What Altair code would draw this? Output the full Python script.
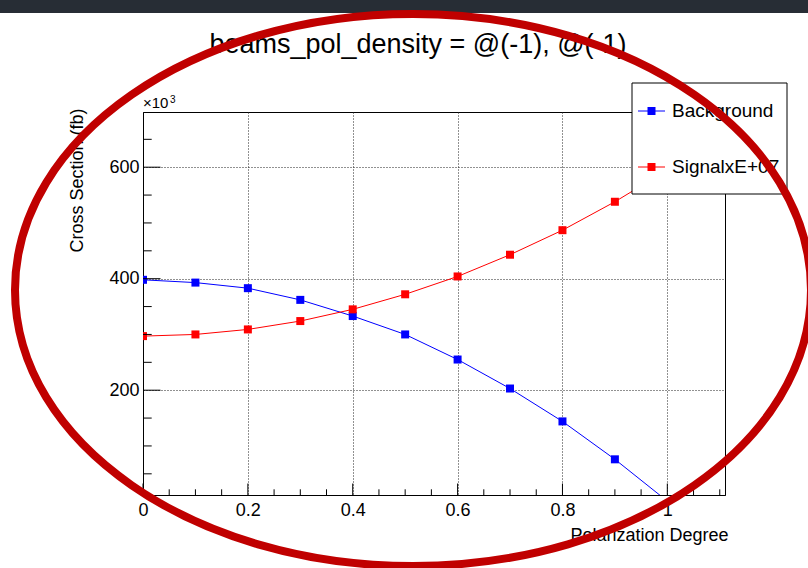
import altair as alt
import pandas as pd

# ---------------- data ----------------
polarization = [0.0, 0.1, 0.2, 0.3, 0.4, 0.5, 0.6, 0.7, 0.8, 0.9, 1.0]
background = [398, 393, 383, 362, 333, 300, 255, 203, 144, 76, 1]
signal = [297, 300, 309, 324, 345, 372, 404, 443, 487, 538, 595]
series_names = ["Background", "SignalxE+07"]
series_colors = ["#0000ff", "#ff0000"]

x_major = [0, 0.2, 0.4, 0.6, 0.8, 1.0]
x_minor = [0.05, 0.1, 0.15, 0.25, 0.3, 0.35, 0.45, 0.5, 0.55, 0.65, 0.7, 0.75,
           0.85, 0.9, 0.95, 1.05, 1.1]
y_major = [200, 400, 600]
y_minor = [50, 100, 150, 250, 300, 350, 450, 500, 550, 650]
x_domain = [0, 1.11]
y_domain = [12, 699]

title_text = "beams_pol_density = @(-1), @(-1)"
x_title = "Polarization Degree"
y_title = "Cross Section (fb)"

FONT = "Liberation Sans"
W, H = 582, 383

df = pd.DataFrame({
    "x": polarization * 2,
    "value": background + signal,
    "series": [series_names[0]] * len(polarization) + [series_names[1]] * len(polarization),
})
one = pd.DataFrame({"a": [0]})

xs = alt.Scale(domain=x_domain, nice=False, zero=False)
ys = alt.Scale(domain=y_domain, nice=False, zero=False)
cs = alt.Scale(domain=series_names, range=series_colors)

xaxis = alt.Axis(values=x_major, format="~g", ticks=False, tickSize=0, labelPadding=6,
                 labelFontSize=18, labelFlush=False, labelOverlap=False,
                 grid=True, gridDash=[1, 2], gridColor="#222222", gridWidth=1,
                 domainColor="black", title=x_title, titleX=585, titleY=40,
                 titleAlign="right", titleBaseline="middle", titleFontSize=18,
                 titleFontWeight="normal")
yaxis = alt.Axis(values=y_major, format="d", ticks=False, tickSize=0, labelPadding=4,
                 labelFontSize=18, labelFlush=False, labelOverlap=False,
                 grid=True, gridDash=[1, 2], gridColor="#222222", gridWidth=1,
                 domainColor="black", title=y_title, titleX=-66, titleY=-4,
                 titleAngle=270, titleAlign="right", titleBaseline="middle",
                 titleFontSize=18, titleFontWeight="normal")


def X(field):
    return alt.X(field, scale=xs, axis=xaxis)


def Y(field):
    return alt.Y(field, scale=ys, axis=yaxis)


band = alt.Chart(one).mark_rect(color="#272d35").encode(
    x=alt.value(-143), x2=alt.value(665), y=alt.value(-112), y2=alt.value(-99))

lines = alt.Chart(df).mark_line(clip=True, strokeWidth=1).encode(
    x=X("x:Q"), y=Y("value:Q"),
    color=alt.Color("series:N", scale=cs, legend=None))

points = alt.Chart(df).mark_point(shape="square", filled=True, size=64, opacity=1,
                                  clip=True).encode(
    x=X("x:Q"), y=Y("value:Q"),
    color=alt.Color("series:N", scale=cs, legend=None))

xt_major = alt.Chart(pd.DataFrame({"x": x_major})).mark_rule(color="black").encode(
    x=X("x:Q"), y=alt.value(H), y2=alt.value(H - 11.5))
xt_minor = alt.Chart(pd.DataFrame({"x": x_minor})).mark_rule(color="black").encode(
    x=X("x:Q"), y=alt.value(H), y2=alt.value(H - 5.7))
yt_major = alt.Chart(pd.DataFrame({"value": y_major})).mark_rule(color="black").encode(
    y=Y("value:Q"), x=alt.value(0), x2=alt.value(17.5))
yt_minor = alt.Chart(pd.DataFrame({"value": y_minor})).mark_rule(color="black").encode(
    y=Y("value:Q"), x=alt.value(0), x2=alt.value(8.7))

# legend box
leg_box = alt.Chart(one).mark_rect(fill="white", stroke="black", strokeWidth=1).encode(
    x=alt.value(489), x2=alt.value(644), y=alt.value(-29), y2=alt.value(82))
leg_layers = []
for i, name in enumerate(series_names):
    yy = -1 + 56 * i
    d = pd.DataFrame({"series": [name]})
    leg_layers.append(alt.Chart(d).mark_rule(strokeWidth=1).encode(
        x=alt.value(495), x2=alt.value(522), y=alt.value(yy),
        color=alt.Color("series:N", scale=cs, legend=None)))
    leg_layers.append(alt.Chart(d).mark_point(shape="square", filled=True, size=64,
                                              opacity=1).encode(
        x=alt.value(508.5), y=alt.value(yy),
        color=alt.Color("series:N", scale=cs, legend=None)))
    leg_layers.append(alt.Chart(d).mark_text(align="left", baseline="middle", fontSize=19,
                                             font=FONT, color="black").encode(
        x=alt.value(529), y=alt.value(yy), text="series:N"))

title = alt.Chart(one).mark_text(align="center", baseline="alphabetic", fontSize=27,
                                 font=FONT, color="black").encode(
    x=alt.value(275), y=alt.value(-59.5), text=alt.value(title_text))
exp_base = alt.Chart(one).mark_text(align="left", baseline="alphabetic", fontSize=15,
                                    font=FONT, color="black").encode(
    x=alt.value(0), y=alt.value(-4), text=alt.value("×10"))
exp_sup = alt.Chart(one).mark_text(align="left", baseline="alphabetic", fontSize=10,
                                   font=FONT, color="black").encode(
    x=alt.value(27), y=alt.value(-9), text=alt.value("3"))

k = 0.5523
ry = 0.6935
kr = round(k * ry, 4)
ellipse_path = (f"M 1 0 C 1 {kr} {k} {ry} 0 {ry} C {-k} {ry} -1 {kr} -1 0 "
                f"C -1 {-kr} {-k} {-ry} 0 {-ry} C {k} {-ry} 1 {-kr} 1 0 Z")
ellipse = alt.Chart(one).mark_point(shape=ellipse_path, size=796 * 796, filled=False,
                                    stroke="#c00000", strokeWidth=8, opacity=1,
                                    fillOpacity=0).encode(
    x=alt.value(270), y=alt.value(178))

chart = alt.layer(
    band, lines, points, xt_major, xt_minor, yt_major, yt_minor,
    leg_box, *leg_layers, title, exp_base, exp_sup, ellipse
).properties(
    width=W, height=H,
    padding={"left": 143, "top": 112, "right": 83, "bottom": 73},
    autosize=alt.AutoSizeParams(type="none"),
    background="white",
).configure_view(stroke="black", strokeWidth=1).configure_axis(
    labelFont=FONT, titleFont=FONT, labelColor="black", titleColor="black")

chart.save("out.html", embed_options={"renderer": "svg", "actions": False})
